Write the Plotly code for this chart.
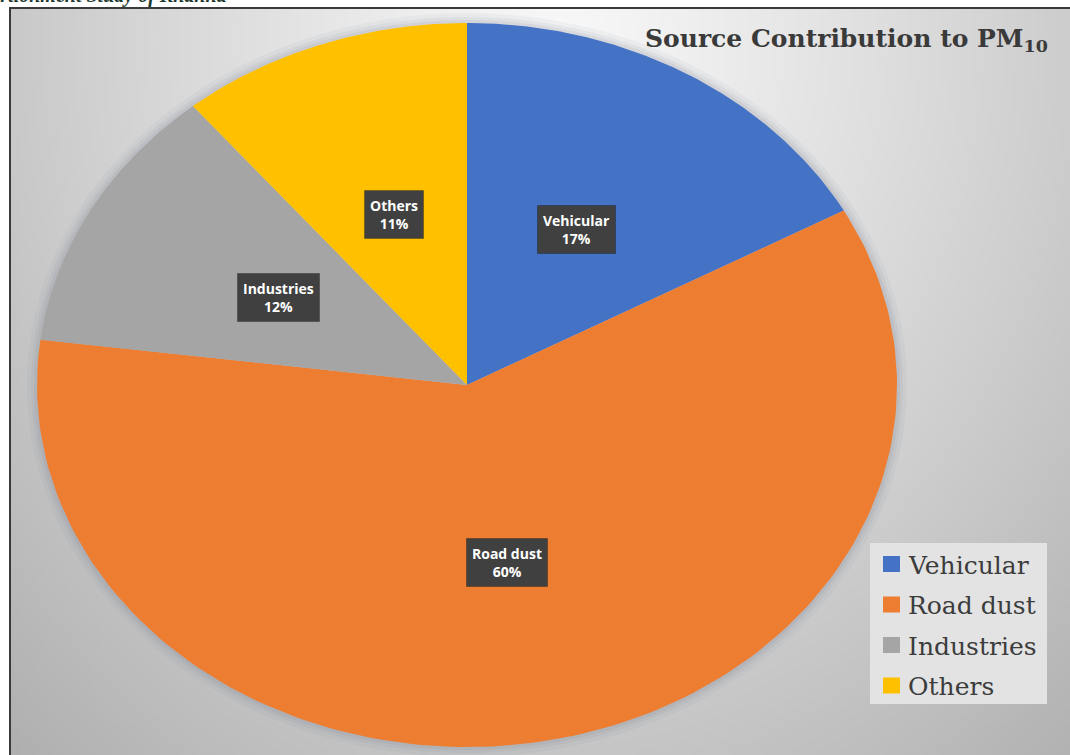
import base64
import struct
import zlib

import numpy as np
import plotly.graph_objects as go

# ---- data -------------------------------------------------------------
categories = ["Vehicular", "Road dust", "Industries", "Others"]
shares = [17, 60, 12, 11]  # percent of PM10
colors = ["#4472C4", "#ED7D31", "#A5A5A5", "#FFC000"]

title_text = "Source Contribution to PM<sub>10</sub>"
header_text = "Apportionment Study of Khanna"

# ---- canvas geometry (pixel-like axes, y grows downward) --------------
W, H = 1070, 755
cx, cy = 467, 385          # pie centre
rx, ry = 430, 362          # pie is drawn as an ellipse


def gradient_png(w, h):
    """Soft radial grey background, returned as a PNG data URI."""
    xs = (np.arange(w) + 0.5) / w * 1060 + 10
    ys = (np.arange(h) + 0.5) / h * 747 + 8
    X, Y = np.meshgrid(xs, ys)
    d = np.sqrt(((X - 560) / 640) ** 2 + ((Y - 40) / 780) ** 2)
    v = 248 - 56 * np.clip(d, 0, 1.3) ** 1.15
    v = np.clip(v, 0, 255).astype(np.uint8)
    rgb = np.stack([v, v, v], axis=-1)
    raw = b"".join(b"\x00" + rgb[r].tobytes() for r in range(h))

    def chunk(tag, data):
        c = struct.pack(">I", len(data)) + tag + data
        return c + struct.pack(">I", zlib.crc32(tag + data) & 0xFFFFFFFF)

    png = b"\x89PNG\r\n\x1a\n"
    png += chunk(b"IHDR", struct.pack(">IIBBBBB", w, h, 8, 2, 0, 0, 0))
    png += chunk(b"IDAT", zlib.compress(raw, 9))
    png += chunk(b"IEND", b"")
    return "data:image/png;base64," + base64.b64encode(png).decode()


fig = go.Figure()

# ---- pie slices, clockwise from 12 o'clock ----------------------------
total = float(sum(shares))
start = 0.0
label_pos = []
for name, val, col in zip(categories, shares, colors):
    a0 = start / total * 2 * np.pi
    a1 = (start + val) / total * 2 * np.pi
    th = np.linspace(a0, a1, 160)
    xs = np.concatenate([[cx], cx + rx * np.sin(th), [cx]])
    ys = np.concatenate([[cy], cy - ry * np.cos(th), [cy]])
    fig.add_trace(go.Scatter(
        x=xs, y=ys, mode="lines", fill="toself", fillcolor=col,
        line=dict(width=0, color=col), name=name, showlegend=False,
        hoverinfo="skip",
    ))
    mid = (a0 + a1) / 2
    label_pos.append((cx + 0.5 * rx * np.sin(mid), cy - 0.5 * ry * np.cos(mid)))
    start += val

annotations = []

# ---- data labels in dark call-out boxes -------------------------------
for (lx, ly), name, val in zip(label_pos, categories, shares):
    annotations.append(dict(
        x=lx, y=ly, xref="x", yref="y", text=f"{name}<br>{val}%",
        showarrow=False, bgcolor="#404040", borderpad=5,
        bordercolor="rgba(0,0,0,0.25)", borderwidth=1,
        font=dict(family="Open Sans", size=14, color="white", weight="bold"),
    ))

# ---- title ------------------------------------------------------------
annotations.append(dict(
    x=1050, y=40, xref="x", yref="y", xanchor="right", yanchor="middle",
    text=title_text, showarrow=False,
    font=dict(family="DejaVu Serif", size=25, color="#3a3a3a", weight="bold"),
))

# ---- running page header, clipped by the top edge ---------------------
annotations.append(dict(
    x=229, y=9, xref="x", yref="y", xanchor="right", yanchor="bottom",
    text=header_text, showarrow=False,
    font=dict(family="Liberation Serif", size=20, color="#1f3a30",
              weight="bold", style="italic"),
))

# ---- legend -----------------------------------------------------------
shapes = []
shapes.append(dict(type="rect", xref="x", yref="y", x0=870, x1=1047,
                   y0=543, y1=704, fillcolor="#e3e3e3", line=dict(width=0),
                   layer="below"))
for i, (name, col) in enumerate(zip(categories, colors)):
    yc = 564 + i * 40.5
    shapes.append(dict(type="rect", xref="x", yref="y", x0=883, x1=900,
                       y0=yc - 8, y1=yc + 8, fillcolor=col, line=dict(width=0)))
    annotations.append(dict(
        x=906, y=yc + 1, xref="x", yref="y", xanchor="left", yanchor="middle",
        text=name, showarrow=False,
        font=dict(family="DejaVu Serif", size=25, color="#3c3c3c"),
    ))

# ---- soft halo under the pie ------------------------------------------
for grow, alpha in [(10, 0.06), (6, 0.08), (3, 0.10)]:
    shapes.append(dict(type="circle", xref="x", yref="y", layer="below",
                       x0=cx - rx - grow, x1=cx + rx + grow,
                       y0=cy - ry - grow, y1=cy + ry + grow,
                       fillcolor=f"rgba(110,120,140,{alpha})", line=dict(width=0)))

# ---- frame ------------------------------------------------------------
shapes.append(dict(type="rect", xref="x", yref="y", x0=10, x1=1080,
                   y0=8, y1=770, line=dict(color="#3a3a3a", width=2),
                   fillcolor="rgba(0,0,0,0)"))

fig.update_layout(
    width=W, height=H,
    margin=dict(l=0, r=0, t=0, b=0),
    paper_bgcolor="white", plot_bgcolor="rgba(0,0,0,0)",
    xaxis=dict(range=[0, W], visible=False, fixedrange=True),
    yaxis=dict(range=[H, 0], visible=False, fixedrange=True),
    showlegend=False,
    annotations=annotations,
    shapes=shapes,
    images=[dict(source=gradient_png(265, 187), xref="paper", yref="paper",
                 x=10 / W, y=1 - 8 / H, sizex=1060 / W, sizey=747 / H,
                 xanchor="left", yanchor="top", sizing="stretch",
                 layer="below")],
)

fig.write_html("out.html")
